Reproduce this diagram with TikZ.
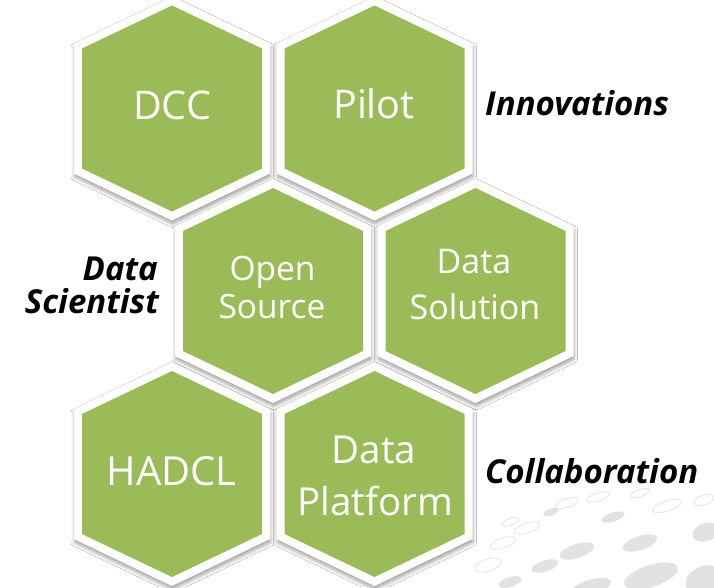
\documentclass[tikz,border=0pt]{standalone}
\usepackage{fontspec}
\setmainfont{Open Sans}
\usetikzlibrary{shadows.blur}
\definecolor{hexgreen}{HTML}{9BBB59}
\definecolor{swfill}{HTML}{E2E2E2}
\definecolor{swline}{HTML}{E6E6E6}
\newcommand{\hexcell}[3]{%
  \path[hexwhite] (#1,#2) ++(0,-112) -- ++(98,47) -- ++(0,130) -- ++(-98,47) -- ++(-98,-47) -- ++(0,-130) -- cycle;
  \path[hexfill] (#1,#2) ++(0,-103) -- ++(90,43) -- ++(0,120) -- ++(-90,43) -- ++(-90,-43) -- ++(0,-120) -- cycle;
  \coordinate (#3) at (#1,#2);
}
\begin{document}
\begin{tikzpicture}[x=1pt,y=-1pt,
  hexwhite/.style={fill=white, blur shadow={shadow xshift=0.5pt, shadow yshift=-3.5pt, shadow blur radius=3.5pt, shadow opacity=35}},
  hexfill/.style={fill=hexgreen},
  hextext/.style={text=white, anchor=base, inner sep=0pt},
  sidelabel/.style={font=\fontsize{33}{36}\selectfont\bfseries\itshape, inner sep=0pt},
  swdot/.style={fill=swfill},
  swring/.style={draw=swline, line width=0.9pt}]
\useasboundingbox (0,0) rectangle (714,587);
\fill[white] (0,0) rectangle (714,587);
% background swoosh
\begin{scope}
\clip (0,0) rectangle (714,587);
\fill[swdot, rotate around={18:(640,543)}] (640,543) ellipse [x radius=18, y radius=7];
\fill[swdot, rotate around={18:(613,517)}] (613,517) ellipse [x radius=12, y radius=4.5];
\fill[swdot, rotate around={18:(577,551)}] (577,551) ellipse [x radius=18, y radius=7];
\fill[swdot, rotate around={18:(651,576)}] (651,576) ellipse [x radius=28, y radius=11];
\fill[swdot, rotate around={18:(706,532)}] (706,532) ellipse [x radius=14, y radius=9];
\fill[swdot, rotate around={18:(551,512)}] (551,512) ellipse [x radius=8, y radius=3.5];
\fill[swdot, rotate around={18:(545,566)}] (545,566) ellipse [x radius=14, y radius=5.5];
\fill[swdot, rotate around={18:(705,580)}] (705,580) ellipse [x radius=20, y radius=14];
\fill[swdot, rotate around={18:(590,588)}] (590,588) ellipse [x radius=22, y radius=8];
\fill[swdot, rotate around={18:(510,582)}] (510,582) ellipse [x radius=12, y radius=5];
\draw[swring, rotate around={18:(567,503)}] (567,503) ellipse [x radius=12, y radius=4.5];
\draw[swring, rotate around={18:(598,497)}] (598,497) ellipse [x radius=12, y radius=4];
\draw[swring, rotate around={18:(667,506)}] (667,506) ellipse [x radius=15, y radius=5];
\draw[swring, rotate around={18:(704,500)}] (704,500) ellipse [x radius=10, y radius=5];
\draw[swring, rotate around={18:(527,528)}] (527,528) ellipse [x radius=13, y radius=5];
\draw[swring, rotate around={18:(510,522)}] (510,522) ellipse [x radius=9, y radius=3.5];
\draw[swring, rotate around={18:(503,543)}] (503,543) ellipse [x radius=13, y radius=5];
\draw[swring, rotate around={18:(488,565)}] (488,565) ellipse [x radius=14, y radius=6];
\draw[swring, rotate around={18:(640,493)}] (640,493) ellipse [x radius=10, y radius=3.5];
\end{scope}
% hexagons
\hexcell{172}{108.5}{hdcc}
\hexcell{374.5}{108.5}{hpilot}
\hexcell{273}{291}{hos}
\hexcell{475.5}{291}{hds}
\hexcell{172}{474}{hhadcl}
\hexcell{374.5}{474}{hdp}
% hexagon texts
\node[hextext, font=\fontsize{39.5}{40}\selectfont] (tdcc) at (172,119) {DCC};
\node[hextext, font=\fontsize{39.5}{40}\selectfont] (tpilot) at (374,118.3) {Pilot};
\node[hextext, font=\fontsize{33.5}{34}\selectfont] (tos1) at (272.5,280.7) {Open};
\node[hextext, font=\fontsize{33.5}{34}\selectfont] (tos2) at (272,318.3) {Source};
\node[hextext, font=\fontsize{34}{34}\selectfont] (tds1) at (474,273.3) {Data};
\node[hextext, font=\fontsize{34}{34}\selectfont] (tds2) at (475,319.3) {Solution};
\node[hextext, font=\fontsize{40}{40}\selectfont] (thadcl) at (171.7,485) {HADCL};
\node[hextext, font=\fontsize{38.5}{39}\selectfont] (tdp1) at (374,463.3) {Data};
\node[hextext, font=\fontsize{38.5}{39}\selectfont] (tdp2) at (375,515.7) {Platform};
% side labels
\node[sidelabel, anchor=base west] (linno) at (485,115) {Innovations};
\node[sidelabel, anchor=base west] (lcollab) at (485,483.3) {Collaboration};
\node[sidelabel, anchor=base east] (lds1) at (158,280) {Data};
\node[sidelabel, anchor=base east] (lds2) at (159,313) {Scientist};
\end{tikzpicture}
\end{document}
